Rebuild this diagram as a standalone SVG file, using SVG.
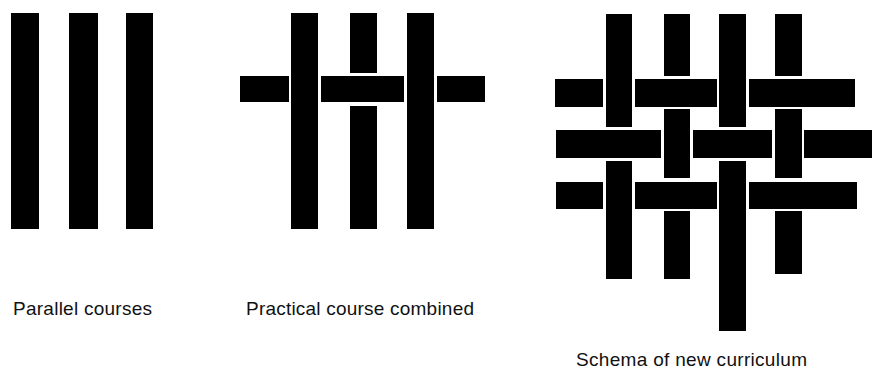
<svg xmlns="http://www.w3.org/2000/svg" width="872" height="369" viewBox="0 0 872 369">
<style>
rect.b{fill:#000}
text{font-family:"Liberation Sans",Arial,sans-serif;font-size:19px;fill:#111}
</style>
<rect width="872" height="369" fill="#fff"/>
<g id="parallel">
<rect class="b" x="11" y="13" width="28" height="216"/>
<rect class="b" x="69" y="13" width="29" height="216"/>
<rect class="b" x="126" y="13" width="27" height="216"/>
</g>
<g id="combined">
<rect class="b" x="291" y="13" width="27" height="216"/>
<rect class="b" x="350" y="13" width="27" height="60"/>
<rect class="b" x="350" y="106" width="27" height="123"/>
<rect class="b" x="407" y="13" width="27" height="216"/>
<rect class="b" x="240" y="76" width="49" height="26"/>
<rect class="b" x="321" y="76" width="83" height="26"/>
<rect class="b" x="437" y="76" width="48" height="26"/>
</g>
<g id="schema">
<rect class="b" x="606" y="14" width="26" height="113"/>
<rect class="b" x="606" y="161" width="26" height="118"/>
<rect class="b" x="664" y="14" width="26" height="62"/>
<rect class="b" x="664" y="109" width="26" height="69"/>
<rect class="b" x="664" y="211" width="26" height="68"/>
<rect class="b" x="719" y="14" width="27" height="113"/>
<rect class="b" x="719" y="161" width="27" height="170"/>
<rect class="b" x="775" y="14" width="27" height="62"/>
<rect class="b" x="775" y="109" width="27" height="69"/>
<rect class="b" x="775" y="211" width="27" height="63"/>
<rect class="b" x="555" y="79" width="48" height="28"/>
<rect class="b" x="635" y="79" width="82" height="28"/>
<rect class="b" x="749" y="79" width="106" height="28"/>
<rect class="b" x="556" y="130" width="105" height="28"/>
<rect class="b" x="693" y="130" width="79" height="28"/>
<rect class="b" x="804" y="130" width="68" height="28"/>
<rect class="b" x="556" y="182" width="47" height="27"/>
<rect class="b" x="635" y="182" width="82" height="27"/>
<rect class="b" x="749" y="182" width="108" height="27"/>
</g>
<g id="labels">
<text x="13" y="315" textLength="139" lengthAdjust="spacing">Parallel courses</text>
<text x="246" y="315" textLength="228" lengthAdjust="spacing">Practical course combined</text>
<text x="576" y="366" textLength="231" lengthAdjust="spacing">Schema of new curriculum</text>
</g>
</svg>
